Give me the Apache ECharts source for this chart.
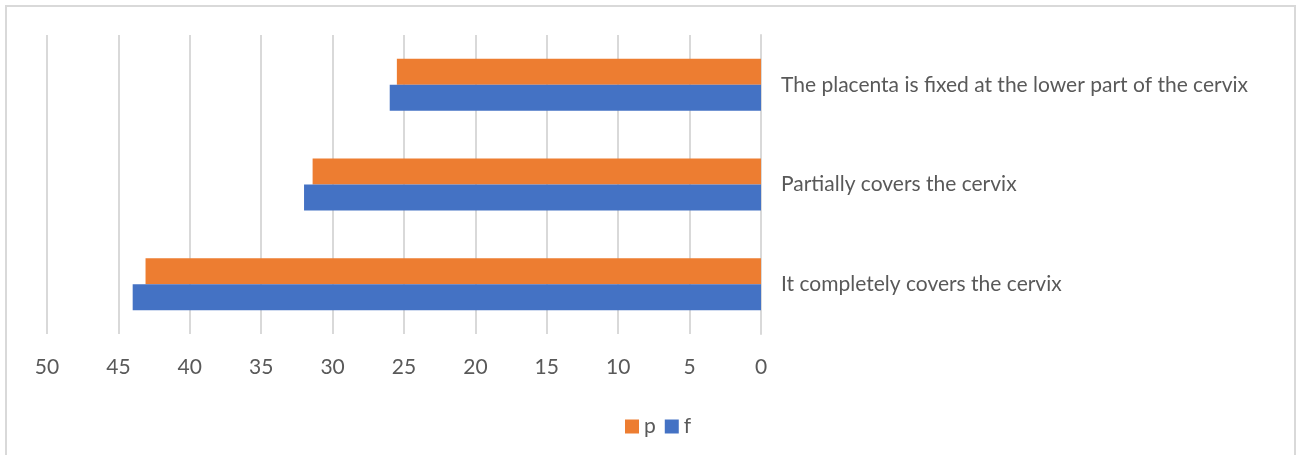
<!DOCTYPE html>
<html>
<head>
<meta charset="utf-8">
<script src="https://cdn.jsdelivr.net/npm/echarts@6/dist/echarts.min.js"></script>
<style>
  html, body { margin: 0; padding: 0; background: #fff; }
  #chart { width: 1298px; height: 455px; }
</style>
</head>
<body>
<div id="chart"></div>
<script>
// categories bottom to top
const categories = [
  'It completely covers the cervix',
  'Partially covers the cervix',
  'The placenta is fixed at the lower part of the cervix',
]
const pValues = [43.1, 31.4, 25.5]
const fValues = [44, 32, 26]

const textColor = '#595959'
const gridColor = '#d9d9d9'
const font = 'Lato'

let myChart = echarts.init(document.getElementById('chart'))
let option = {
  animation: false,
  graphic: [
    {
      type: 'rect',
      shape: { x: 6, y: 6, width: 1289, height: 470 },
      style: { fill: 'none', stroke: gridColor, lineWidth: 2 },
    },
  ],
  legend: {
    data: ['p', 'f'],
    left: 620,
    top: 411,
    icon: 'rect',
    itemWidth: 14,
    itemHeight: 14,
    itemGap: 9,
    itemStyle: { borderWidth: 0 },
    textStyle: { color: textColor, fontSize: 21, fontFamily: font },
  },
  grid: {
    left: 47,
    right: 537,
    top: 35,
    bottom: 121,
    containLabel: false,
  },
  xAxis: {
    type: 'value',
    inverse: true,
    min: 0,
    max: 50,
    interval: 5,
    axisLine: { show: false },
    axisTick: { show: false },
    splitLine: { lineStyle: { color: gridColor, width: 2 } },
    axisLabel: { color: textColor, fontSize: 21, fontFamily: font, margin: 23 },
  },
  yAxis: {
    type: 'category',
    position: 'right',
    data: categories,
    axisTick: { show: false },
    axisLine: { show: true, lineStyle: { color: gridColor, width: 2 } },
    axisLabel: { color: textColor, fontSize: 21, fontFamily: font, margin: 20 },
  },
  series: [
    {
      name: 'p',
      type: 'bar',
      data: pValues,
      barWidth: 26,
      barGap: '0%',
      barCategoryGap: '48%',
      itemStyle: { color: '#ed7d31' },
    },
    {
      name: 'f',
      type: 'bar',
      data: fValues,
      barWidth: 26,
      barGap: '0%',
      barCategoryGap: '48%',
      itemStyle: { color: '#4472c4' },
    },
  ],
}
myChart.setOption(option)
window.addEventListener('resize', () => {
  myChart.resize()
})
</script>
</body>
</html>
